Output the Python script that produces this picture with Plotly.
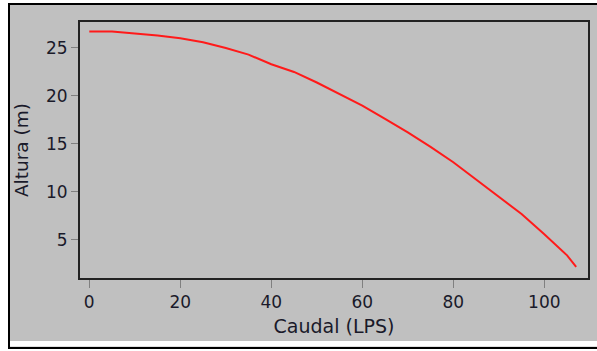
import plotly.graph_objects as go

caudal = [0, 5, 10, 15, 20, 25, 30, 35, 40, 45, 50, 55, 60, 65, 70, 75, 80, 85, 90, 95, 100, 105, 107]
altura = [26.7, 26.7, 26.5, 26.3, 26.0, 25.6, 25.0, 24.3, 23.3, 22.5, 21.4, 20.2, 19.0, 17.6,
          16.2, 14.7, 13.1, 11.3, 9.5, 7.7, 5.6, 3.4, 2.2]
x_ticks = [0, 20, 40, 60, 80, 100]
y_ticks = [5, 10, 15, 20, 25]

W, H = 597, 351
L, R, T, B = 80, 588, 22, 278


def px(x):
    return (x - L) / (R - L)


def py(y):
    return (B - y) / (B - T)


fig = go.Figure()
fig.add_trace(go.Scatter(x=caudal, y=altura, mode="lines",
                         line=dict(color="#ff1a1a", width=2), hoverinfo="skip"))

gray = "#c0c0c0"
font = dict(family="DejaVu Sans", size=17, color="#1a1a2a")
xtitle_font = dict(family="DejaVu Sans", size=19, color="#1a1a2a")
ytitle_font = dict(family="DejaVu Sans", size=18.5, color="#1a1a2a")

shapes = [
    # outer frame (black border, gray fill)
    dict(type="rect", xref="paper", yref="paper", layer="below",
         x0=px(9), x1=px(620), y0=py(348), y1=py(4),
         line=dict(color="black", width=2), fillcolor=gray),
    # white strip near bottom
    dict(type="rect", xref="paper", yref="paper", layer="below",
         x0=px(10), x1=px(620), y0=py(346.5), y1=py(341),
         line=dict(width=0), fillcolor="white"),
]

fig.update_layout(
    width=W, height=H,
    margin=dict(l=L, r=W - R, t=T, b=H - B, autoexpand=False),
    paper_bgcolor="white",
    plot_bgcolor=gray,
    showlegend=False,
    shapes=shapes,
    font=font,
    xaxis=dict(range=[-2.04, 109.6], tickvals=x_ticks, ticks="outside", ticklen=8,
               tickcolor="#808080", tickwidth=1, showgrid=False, zeroline=False,
               showline=True, linecolor="#222222", linewidth=2, mirror=True,
               title=dict(text="Caudal (LPS)", font=xtitle_font, standoff=8),
               tickfont=font),
    yaxis=dict(range=[1.04, 27.7], tickvals=y_ticks, ticks="outside", ticklen=7,
               tickcolor="#808080", tickwidth=1, showgrid=False, zeroline=False,
               showline=True,
               linecolor="#222222", linewidth=2, mirror=True,
               title=dict(text="Altura (m)", font=ytitle_font, standoff=12),
               tickfont=font),
)

fig.write_html("out.html", config={"displayModeBar": False},
               post_script="document.body.style.margin='0';")
